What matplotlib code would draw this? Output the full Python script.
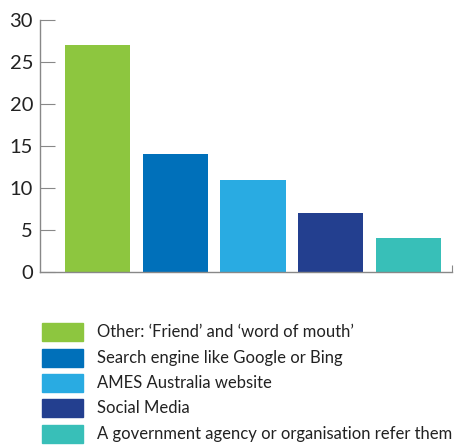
import matplotlib
matplotlib.use("Agg")
import matplotlib.pyplot as plt
from matplotlib.patches import Rectangle

# survey responses: how people heard about the service
labels = [
    "Other: \u2018Friend\u2019 and \u2018word of mouth\u2019",
    "Search engine like Google or Bing",
    "AMES Australia website",
    "Social Media",
    "A government agency or organisation refer them",
]
values = [27, 14, 11, 7, 4]
colors = ["#8DC63F", "#0070BA", "#29ABE2", "#233F8F", "#38BFB8"]

plt.rcParams["font.family"] = ["Lato", "DejaVu Sans"]

fig = plt.figure(figsize=(4.56, 4.46), dpi=100)
ax = fig.add_axes([40 / 456, 1 - 272 / 446, 412 / 456, 252 / 446])

x = range(len(values))
ax.bar(x, values, width=0.84, color=colors)

ax.set_ylim(0, 30)
ax.set_xlim(-0.74, 4.56)
ax.set_yticks(range(0, 31, 5))
ax.set_xticks([4.56])
ax.set_xticklabels([""])
ax.tick_params(axis="y", direction="in", length=11, color="#888888",
               labelsize=14.5, labelcolor="#222222", pad=5)
ax.tick_params(axis="x", direction="in", length=5, color="#888888")
for side in ["top", "right"]:
    ax.spines[side].set_visible(False)
for side in ["left", "bottom"]:
    ax.spines[side].set_color("#888888")
    ax.spines[side].set_linewidth(1.0)

# legend drawn by hand below the axes
row_y = [332, 358, 383, 408, 434]
for lab, col, yy in zip(labels, colors, row_y):
    fig.add_artist(Rectangle((42 / 456, 1 - (yy + 9) / 446), 41 / 456, 18 / 446,
                             transform=fig.transFigure, color=col))
    fig.text(97 / 456, 1 - yy / 446, lab, fontsize=12.0, color="#222222",
             va="center", ha="left")

fig.savefig("out.png", dpi=100)
